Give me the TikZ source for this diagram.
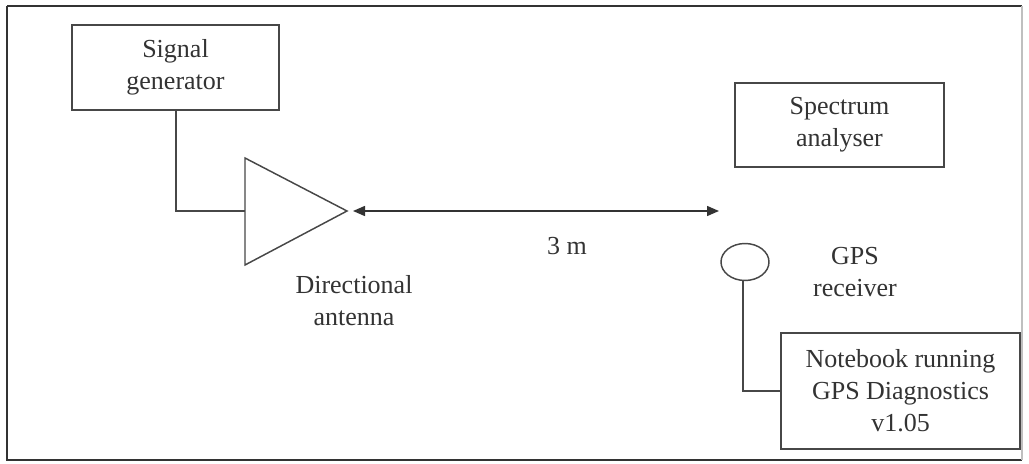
\documentclass[tikz,border=0pt]{standalone}
\usepackage{fontspec}
\setmainfont{Liberation Serif}
\usetikzlibrary{arrows.meta,shapes.geometric}
\begin{document}
\begin{tikzpicture}[x=0.75pt,y=-0.75pt,
  ln/.style={draw=black!72, line width=1.1pt},
  boxed/.style={ln, rectangle, inner sep=0pt, align=center, font=\fontsize{19.5}{24}\selectfont},
  lbl/.style={align=center, inner sep=0pt, text=black!80, font=\fontsize{19.5}{24}\selectfont},
  tip/.style={-{Triangle[length=9pt,width=7.5pt]}}]
\useasboundingbox (0,0) rectangle (1029,464);
% frame
\draw[draw=black!80, line width=1.7pt] (7,6) -- (1022,6) (7,6) -- (7,460) -- (1022,460);
\draw[draw=black!25, line width=1pt] (1022,6) -- (1022,460);
% boxes
\node[boxed, minimum width=207*0.75pt, minimum height=85*0.75pt, text=black!80] (sg) at (175.5,67.5) {Signal\\generator};
\node[boxed, minimum width=209*0.75pt, minimum height=84*0.75pt, text=black!80] (sa) at (839.5,125) {Spectrum\\analyser};
\node[boxed, minimum width=239*0.75pt, minimum height=116*0.75pt, text=black!80] (nb) at (900.5,391) {Notebook running\\GPS Diagnostics\\v1.05};
% antenna triangle
\coordinate (tl) at (245,211);
\coordinate (ttop) at (245,158);
\coordinate (tbot) at (245,265);
\coordinate (tap) at (347,211);
\draw[ln, line join=miter] (ttop) -- (tap) -- (tbot) -- cycle;
% GPS receiver ellipse
\node[ln, ellipse, minimum width=48*0.75pt, minimum height=37*0.75pt, inner sep=0pt] (gps) at (745,262) {};
% connectors
\coordinate (c1) at (176,211);
\draw[ln] (sg.south -| c1) -- (c1) -- (tl);
\coordinate (c2) at (743,391);
\draw[ln] (gps.south -| c2) -- (c2) -- (nb.west);
% distance arrow
\coordinate (al) at (353,211);
\coordinate (ar) at (719,211);
\draw[ln, {Triangle[length=9pt,width=7.5pt]}-{Triangle[length=9pt,width=7.5pt]}, draw=black!80] (al) -- (ar);
% labels
\node[lbl] (dist) at (567,246) {3 m};
\node[lbl] (dirant) at (354,301) {Directional\\antenna};
\node[lbl] (gpslbl) at (855,272) {GPS\\receiver};
\end{tikzpicture}
\end{document}
